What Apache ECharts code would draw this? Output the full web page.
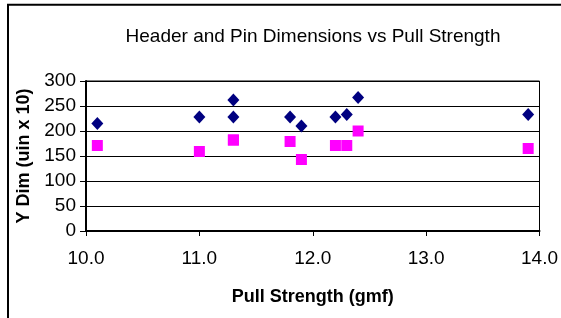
<!DOCTYPE html>
<html>
<head>
<meta charset="utf-8">
<script src="https://cdn.jsdelivr.net/npm/echarts@6/dist/echarts.min.js"></script>
<style>
  html, body { margin: 0; padding: 0; background: #fff; }
  #chart { width: 561px; height: 318px; }
</style>
</head>
<body>
<div id="chart"></div>
<script>
// pull strength per sample (gmf)
const pullStrength = [10.1, 11.0, 11.3, 11.3, 11.8, 11.9, 12.2, 12.3, 12.4, 13.9];
// header dimension (blue diamonds)
const headerDim = [215, 228, 262, 228, 228, 210, 228, 233, 267, 233];
// pin dimension (pink squares)
const pinDim = [171, 159, 182, 182, 179, 143, 171, 171, 200, 165];

const toPoints = (ys) => pullStrength.map((x, i) => [x, ys[i]]);

const chart = echarts.init(document.getElementById("chart"));
const font = "Liberation Sans, Arial, sans-serif";

chart.setOption({
  animation: false,
  backgroundColor: "#fff",
  textStyle: { fontFamily: font },
  title: {
    text: "Header and Pin Dimensions vs Pull Strength",
    left: 308,
    top: 22,
    textAlign: "center",
    textStyle: { fontFamily: font, fontSize: 19, fontWeight: "normal", color: "#000" },
  },
  graphic: [
    {
      type: "rect",
      shape: { x: 8, y: 4.8, width: 600, height: 400 },
      style: { fill: "none", stroke: "#000", lineWidth: 2 },
      silent: true,
    },
  ],
  grid: {
    left: 86,
    right: 20,
    top: 81,
    bottom: 87,
    show: true,
    borderColor: "#000",
    borderWidth: 1,
    backgroundColor: "#fff",
  },
  xAxis: {
    type: "value",
    min: 10,
    max: 14,
    interval: 1,
    name: "Pull Strength (gmf)",
    nameLocation: "middle",
    nameGap: 57,
    nameTextStyle: { fontFamily: font, fontSize: 18, fontWeight: "bold", color: "#000" },
    axisLine: { show: true, lineStyle: { color: "#000", width: 2 } },
    axisTick: { show: true, length: 5, lineStyle: { color: "#000", width: 1 } },
    axisLabel: {
      fontFamily: font,
      fontSize: 19,
      color: "#000",
      margin: 18,
      formatter: (v) => v.toFixed(1),
    },
    splitLine: { show: false },
  },
  yAxis: {
    type: "value",
    min: 0,
    max: 300,
    interval: 50,
    name: "Y Dim (uin x 10)",
    nameLocation: "middle",
    nameGap: 53,
    nameTextStyle: { fontFamily: font, fontSize: 18, fontWeight: "bold", color: "#000" },
    axisLine: { show: true, lineStyle: { color: "#000", width: 2 } },
    axisTick: { show: true, length: 6, lineStyle: { color: "#000", width: 1 } },
    axisLabel: { fontFamily: font, fontSize: 19, color: "#000", margin: 10 },
    splitLine: { show: true, lineStyle: { color: "#000", width: 1 } },
  },
  series: [
    {
      name: "Header",
      type: "scatter",
      symbol: "diamond",
      symbolSize: [12, 13],
      itemStyle: { color: "#000080", opacity: 1 },
      data: toPoints(headerDim),
    },
    {
      name: "Pin",
      type: "scatter",
      symbol: "rect",
      symbolSize: 11,
      itemStyle: { color: "#ff00ff", opacity: 1 },
      data: toPoints(pinDim),
    },
  ],
});
</script>
</body>
</html>
